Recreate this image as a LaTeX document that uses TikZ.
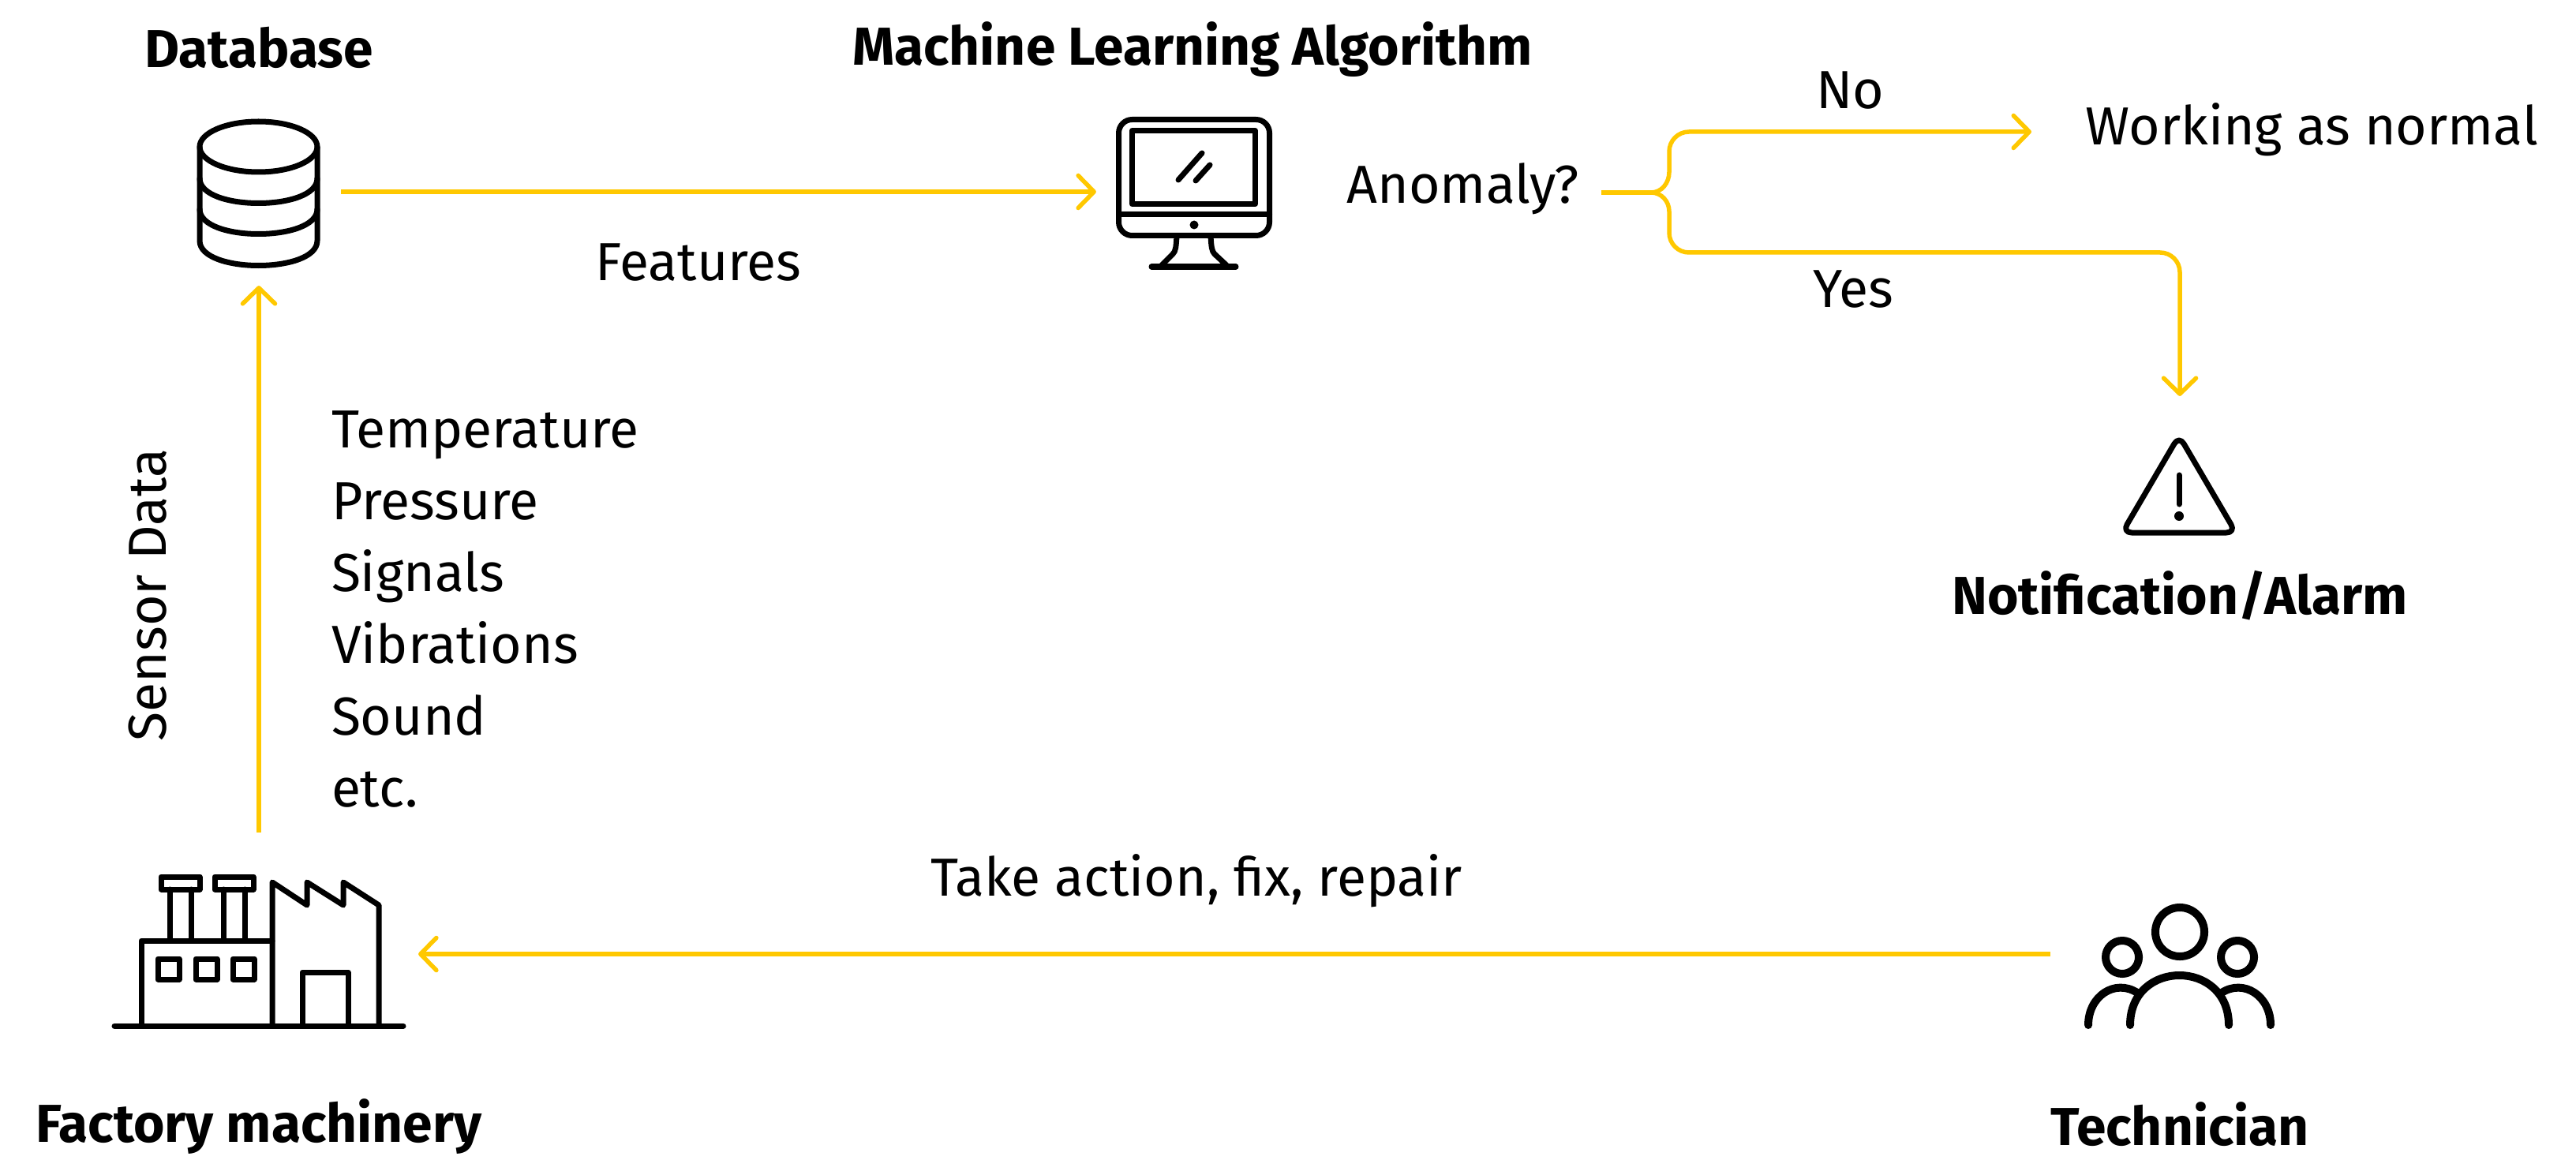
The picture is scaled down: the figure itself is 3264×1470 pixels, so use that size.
\documentclass[tikz,border=0pt]{standalone}
\usepackage{fontspec}
\setmainfont{Fira Sans}
\usetikzlibrary{arrows.meta,positioning}
\definecolor{flowyellow}{RGB}{255,200,0}
\newcommand{\iconbox}[4]{\node[iconnode,minimum width=#3 cm,minimum height=#4 cm](#1) at #2 {}}

\begin{document}
\begin{tikzpicture}[x=0.01cm,y=-0.01cm,
  >={Straight Barb[length=0.2cm,width=0.41cm,round]},
  iconnode/.style={inner sep=0pt,outer sep=0pt},
  lbl/.style={inner sep=0pt,outer sep=0pt,font=\fontsize{19.3}{25.9}\selectfont},
  head/.style={lbl,font=\fontsize{19.25}{25.9}\selectfont\bfseries},
  flow/.style={draw=flowyellow,line width=0.055cm},
  glyph/.style={draw=black,line width=0.07cm,line cap=round,line join=round}]

\useasboundingbox (0,0) rectangle (3264,1470);

\iconbox{db}{(328,243)}{2.08}{2.38};
\iconbox{pc}{(1513,243)}{2.48}{2.3};
\iconbox{alarm}{(2762,598)}{2.4}{1.92};
\iconbox{factory}{(328,1209)}{4.04}{3.08};
\iconbox{tech}{(2762,1209)}{3.28}{2.2};

\node[head,above=0.37cm of db](dbhead){Database};
\node[head,above=0.30cm of pc,xshift=-0.02cm](pchead){Machine Learning Algorithm};
\node[head,below=0.29cm of alarm](alarmhead){Notification/Alarm};
\node[head,below=0.29cm of factory](factoryhead){Factory machinery};
\node[head,below=0.77cm of tech](techhead){Technician};

\node[lbl](features) at (885,333){Features};
\node[lbl,anchor=east](anomaly) at (2001,239){Anomaly?};
\node[lbl,anchor=west](working) at (2642,164){Working as normal};
\node[lbl](no) at (2344,115){No};
\node[lbl](yes) at (2348,367){Yes};
\node[lbl,align=left,anchor=west](inputs) at (420,772){Temperature\\Pressure\\Signals\\Vibrations\\Sound\\etc.};
\node[lbl,rotate=90](sensor) at (187,754){Sensor Data};
\node[lbl](action) at (1516,1116){Take action, fix, repair};

\coordinate (fork) at (2092,244);
\coordinate (notip) at (2574,167);
\coordinate (yesrun) at (2400,320);

\draw[flow,->] (db) -- (pc);
\draw[flow,->] (factory) -- (db);
\draw[flow,->] (tech) -- (factory);
\draw[flow,line width=0.06cm,shorten <=0.28cm] (anomaly.east |- fork) -- (fork);
\draw[flow,->] (fork) to[out=0,in=-90] (2115,218) [rounded corners=0.25cm] -- (2115,167) -- (notip);
\draw[flow,->] (fork) to[out=0,in=90] (2115,268) [rounded corners=0.25cm] |- (yesrun) -| (alarm.north);

% database
\draw[glyph] (327.5,186) ellipse [x radius=74.5,y radius=32];
\draw[glyph] (253,186) -- (253,305) .. controls (253,347) and (402,347) .. (402,305) -- (402,186);
\draw[glyph] (253,226) .. controls (253,268) and (402,268) .. (402,226);
\draw[glyph] (253,265) .. controls (253,307) and (402,307) .. (402,265);

% monitor
\draw[glyph,rounded corners=0.17cm] (1417.5,151.5) rectangle (1608.5,298.5);
\draw[glyph] (1434.5,165.5) rectangle (1590.5,258.5);
\draw[glyph] (1417.5,272) -- (1608.5,272);
\fill (1513,285) circle [radius=0.055cm];
\draw[glyph] (1493,228) -- (1523,194);
\draw[glyph] (1515,229) -- (1533,209);
\draw[glyph] (1491,300) .. controls (1490,312) and (1490,318) .. (1486,322) -- (1472,336);
\draw[glyph] (1534,300) .. controls (1535,312) and (1535,318) .. (1539,322) -- (1554,336);
\draw[glyph] (1459,338) -- (1566,338);

% factory
\draw[glyph] (145,1300) -- (511,1300);
\draw[glyph] (179,1300) -- (179,1192) -- (345,1192);
\draw[glyph] (345,1300) -- (345,1118) -- (389,1147) -- (389,1118) -- (435,1147) -- (435,1118) -- (480,1147) -- (480,1300);
\draw[glyph] (383,1300) -- (383,1232) -- (441,1232) -- (441,1300);
\foreach \wx in {200,248,295}
  \draw[glyph] (\wx,1215) rectangle +(27,26);
\foreach \cx in {204,272}{
  \draw[glyph] (\cx,1111) rectangle +(49,16);
  \draw[glyph] (\cx+11,1127) -- (\cx+11,1192);
  \draw[glyph] (\cx+38,1127) -- (\cx+38,1192);
}

% people
\draw[glyph,line width=0.1cm] (2762,1181) circle [radius=0.31cm];
\draw[glyph,line width=0.1cm] (2689,1213) circle [radius=0.21cm];
\draw[glyph,line width=0.1cm] (2835,1213) circle [radius=0.21cm];
\draw[glyph,line width=0.1cm] (2699,1299) .. controls (2699,1215) and (2824,1215) .. (2824,1299);
\draw[glyph,line width=0.1cm] (2646,1299) .. controls (2646,1262) and (2680,1240) .. (2708,1258);
\draw[glyph,line width=0.1cm] (2877,1299) .. controls (2877,1262) and (2843,1240) .. (2815,1258);

% warning
\draw[glyph,rounded corners=0.12cm] (2761,552) -- (2833,675) -- (2689,675) -- cycle;
\draw[glyph] (2761,602) -- (2761,639);
\fill (2761,654) circle [radius=0.06cm];

\end{tikzpicture}
\end{document}
